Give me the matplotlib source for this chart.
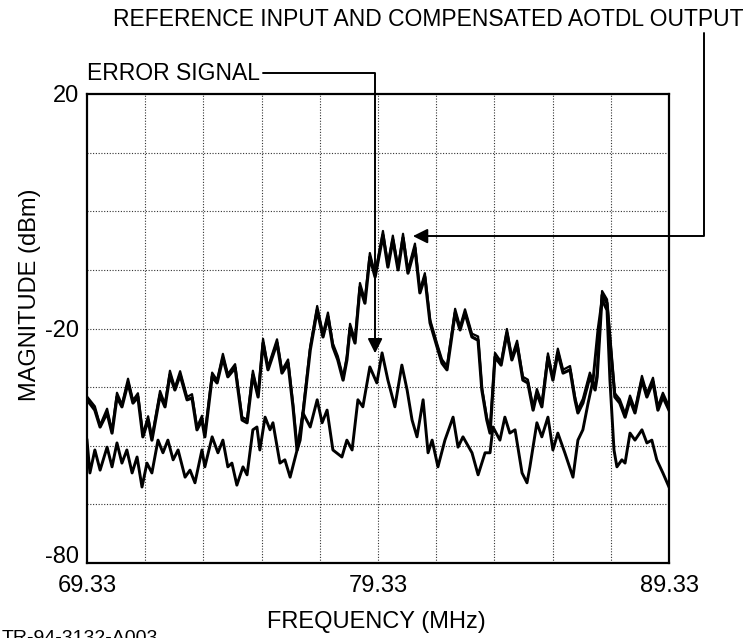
import matplotlib.pyplot as plt

plt.rcParams["font.family"] = ["Liberation Sans", "DejaVu Sans"]

# reference input (upper trace)
ref_freq = [69.33, 69.60, 69.78, 70.02, 70.19, 70.36, 70.53, 70.74, 70.91, 71.08,
            71.25, 71.43, 71.56, 71.84, 72.01, 72.18, 72.35, 72.53, 72.77, 72.94,
            73.11, 73.28, 73.38, 73.63, 73.80, 74.00, 74.17, 74.42, 74.66, 74.83,
            75.03, 75.21, 75.38, 75.55, 75.86, 76.03, 76.24, 76.41, 76.55, 76.65,
            77.00, 77.24, 77.44, 77.61, 77.78, 77.95, 78.13, 78.26, 78.37, 78.54,
            78.71, 78.88, 79.05, 79.23, 79.50, 79.67, 79.84, 80.02, 80.19, 80.36,
            80.60, 80.77, 80.94, 81.12, 81.36, 81.53, 81.70, 81.98, 82.15, 82.32,
            82.56, 82.77, 82.90, 83.07, 83.18, 83.35, 83.56, 83.76, 83.93, 84.11,
            84.31, 84.48, 84.66, 84.79, 84.96, 85.17, 85.34, 85.51, 85.69, 85.93,
            86.10, 86.20, 86.37, 86.61, 86.79, 86.86, 87.03, 87.20, 87.37, 87.47,
            87.64, 87.82, 87.99, 88.16, 88.40, 88.57, 88.78, 88.95, 89.12, 89.33]
ref_db = [-45.2, -47.4, -51.0, -48.0, -52.3, -44.6, -46.7, -41.6, -45.9, -44.6,
          -53.1, -49.5, -53.8, -44.2, -46.7, -39.9, -43.1, -39.9, -45.2, -44.8,
          -51.6, -49.5, -53.1, -40.3, -41.6, -36.3, -40.3, -38.4, -49.5, -50.1,
          -39.9, -44.6, -33.1, -38.8, -33.1, -39.5, -37.4, -46.7, -55.9, -53.8,
          -34.6, -26.1, -31.8, -27.5, -33.9, -36.7, -41.0, -36.7, -29.9, -33.1,
          -21.2, -24.6, -14.8, -19.0, -10.1, -16.9, -11.1, -17.5, -10.7, -18.2,
          -12.8, -22.4, -19.0, -28.8, -33.9, -37.4, -38.8, -26.7, -30.3, -26.7,
          -31.8, -32.5, -43.1, -49.5, -52.3, -36.1, -37.8, -31.0, -36.7, -33.5,
          -41.0, -41.6, -47.4, -43.8, -46.7, -36.1, -41.0, -35.2, -39.5, -38.8,
          -45.2, -48.0, -45.9, -40.3, -43.1, -40.3, -22.9, -24.6, -37.4, -44.6,
          -45.9, -48.9, -45.2, -48.0, -41.0, -44.6, -41.4, -47.4, -44.6, -47.4]
# compensated AOTDL output, almost on top of the reference
out_db = [-44.5, -46.6, -50.6, -47.1, -51.8, -43.7, -46.2, -40.7, -45.3, -43.8,
          -52.5, -48.7, -53.2, -43.3, -46.1, -39.0, -42.6, -39.1, -44.6, -44.0,
          -51.0, -48.6, -52.5, -39.4, -41.0, -35.4, -39.7, -37.6, -48.9, -49.4,
          -39.0, -44.0, -32.2, -38.2, -32.3, -38.9, -36.6, -46.0, -55.2, -53.0,
          -33.8, -25.2, -31.1, -26.6, -33.2, -35.9, -40.3, -35.9, -29.0, -32.4,
          -20.3, -23.9, -13.9, -18.4, -9.2, -16.2, -10.2, -16.9, -9.8, -17.5,
          -11.9, -21.8, -18.2, -28.1, -33.2, -36.6, -38.0, -25.8, -29.6, -25.9,
          -31.1, -31.7, -42.5, -48.9, -51.6, -35.2, -37.1, -30.1, -36.0, -32.6,
          -40.3, -40.9, -46.6, -42.9, -45.9, -35.3, -40.3, -34.3, -38.8, -38.0,
          -44.5, -47.2, -45.0, -39.4, -42.4, -39.5, -22.0, -23.8, -36.6, -43.8,
          -45.1, -48.1, -44.3, -47.2, -40.1, -43.8, -40.5, -46.6, -43.7, -46.6]

# error signal (lower trace)
err_freq = [69.33, 69.43, 69.60, 69.78, 70.02, 70.19, 70.36, 70.53, 70.70, 70.88,
            71.05, 71.22, 71.39, 71.56, 71.77, 71.94, 72.11, 72.29, 72.46, 72.70,
            72.87, 73.04, 73.28, 73.38, 73.63, 73.83, 74.00, 74.17, 74.31, 74.48,
            74.69, 74.83, 75.03, 75.17, 75.27, 75.45, 75.62, 75.72, 75.96, 76.13,
            76.31, 76.55, 76.75, 77.00, 77.24, 77.41, 77.58, 77.78, 78.09, 78.26,
            78.44, 78.64, 78.81, 79.05, 79.29, 79.47, 79.67, 79.91, 80.15, 80.33,
            80.50, 80.67, 80.88, 81.05, 81.19, 81.39, 81.63, 81.91, 82.08, 82.25,
            82.56, 82.77, 83.01, 83.18, 83.28, 83.52, 83.69, 83.86, 84.04, 84.28,
            84.45, 84.55, 84.79, 84.96, 85.17, 85.34, 85.51, 85.75, 86.03, 86.20,
            86.37, 86.55, 86.72, 86.89, 87.03, 87.20, 87.30, 87.44, 87.54, 87.71,
            87.82, 87.99, 88.16, 88.40, 88.57, 88.74, 88.91, 89.12, 89.33]
err_db = [-53.8, -60.8, -55.9, -60.2, -55.3, -59.5, -54.4, -58.7, -55.9, -60.8,
          -57.4, -63.8, -58.7, -60.8, -53.8, -56.5, -53.8, -58.0, -55.9, -61.7,
          -60.2, -62.9, -55.9, -59.5, -53.1, -56.5, -53.8, -59.5, -58.7, -63.4,
          -59.5, -61.2, -51.6, -51.0, -55.9, -48.9, -51.6, -50.1, -58.7, -58.0,
          -61.7, -55.9, -48.0, -51.0, -45.2, -50.1, -47.4, -55.9, -57.4, -53.8,
          -55.9, -45.2, -46.7, -38.2, -41.6, -35.2, -41.0, -46.7, -37.8, -43.1,
          -49.5, -53.1, -45.2, -56.5, -53.8, -59.5, -53.8, -48.9, -55.3, -53.1,
          -56.5, -61.2, -56.5, -56.5, -51.0, -53.8, -48.9, -52.3, -51.6, -60.8,
          -62.9, -59.5, -50.1, -53.1, -48.9, -55.9, -52.3, -56.5, -61.7, -53.8,
          -51.6, -45.9, -41.0, -30.3, -23.9, -26.1, -41.0, -55.9, -59.5, -58.0,
          -58.7, -52.3, -53.8, -51.6, -54.4, -53.8, -58.0, -60.8, -63.8]

grid_db = [-67.5, -55, -42.5, -30, -17.5, -5, 7.5]
grid_freq = [71.33, 73.33, 75.33, 77.33, 79.33, 81.33, 83.33, 85.33, 87.33]
ytick_pos = [-80, -30, 20]
ytick_labels = ["-80", "-20", "20"]
xtick_pos = [69.33, 79.33, 89.33]
xtick_labels = ["69.33", "79.33", "89.33"]

W, H = 752, 638
fig = plt.figure(figsize=(W / 100, H / 100), dpi=100)
ax = fig.add_axes([87 / W, 1 - 563 / H, 582 / W, 469 / H])

ax.plot(ref_freq, ref_db, color="black", lw=2.3, solid_joinstyle="round")
ax.plot(ref_freq, out_db, color="black", lw=1.6, solid_joinstyle="round")
ax.plot(err_freq, err_db, color="black", lw=2.1, solid_joinstyle="round")

ax.set_xlim(69.33, 89.33)
ax.set_ylim(-80, 20)
ax.set_xticks(xtick_pos)
ax.set_xticklabels(xtick_labels)
ax.set_yticks(ytick_pos)
ax.set_yticklabels(ytick_labels)
ax.tick_params(length=0, labelsize=17)
ax.tick_params(axis="x", pad=9)
ax.tick_params(axis="y", pad=6)
# bottom label sits on the frame line, as in the original
ax.get_yticklabels()[0].set_verticalalignment("baseline")

for g in grid_db:
    ax.axhline(g, color="#333333", lw=0.8, ls=(0, (1, 1.5)), zorder=0)
for g in grid_freq:
    ax.axvline(g, color="#333333", lw=0.8, ls=(0, (1, 1.5)), zorder=0)
for s in ax.spines.values():
    s.set_linewidth(1.6)

fig.text(376 / W, 1 - 622 / H, "FREQUENCY (MHz)", ha="center", va="center", fontsize=17)
fig.text(30 / W, 1 - 295 / H, "MAGNITUDE (dBm)", ha="center", va="center",
         rotation=90, fontsize=17)
fig.text(113 / W, 1 - 20 / H, "REFERENCE INPUT AND COMPENSATED AOTDL OUTPUT",
         ha="left", va="center", fontsize=16.5)
fig.text(87 / W, 1 - 73 / H, "ERROR SIGNAL", ha="left", va="center", fontsize=16.5)
fig.text(2 / W, 1 - 630 / H, "TR-94-3132-A003", ha="left", va="top", fontsize=14)

# callout arrows
ax.annotate("", xy=(79.23, -35.3), xycoords="data",
            xytext=(263 / W, 1 - 73 / H), textcoords="figure fraction",
            arrowprops=dict(arrowstyle="-|>", connectionstyle="angle,angleA=0,angleB=90,rad=0",
                            shrinkA=0, shrinkB=0, mutation_scale=22, color="black", lw=1.4),
            annotation_clip=False)
ax.annotate("", xy=(80.53, -10.3), xycoords="data",
            xytext=(704 / W, 1 - 33 / H), textcoords="figure fraction",
            arrowprops=dict(arrowstyle="-|>", connectionstyle="angle,angleA=90,angleB=0,rad=0",
                            shrinkA=0, shrinkB=0, mutation_scale=22, color="black", lw=1.4),
            annotation_clip=False)

fig.savefig("out.png", dpi=100)
